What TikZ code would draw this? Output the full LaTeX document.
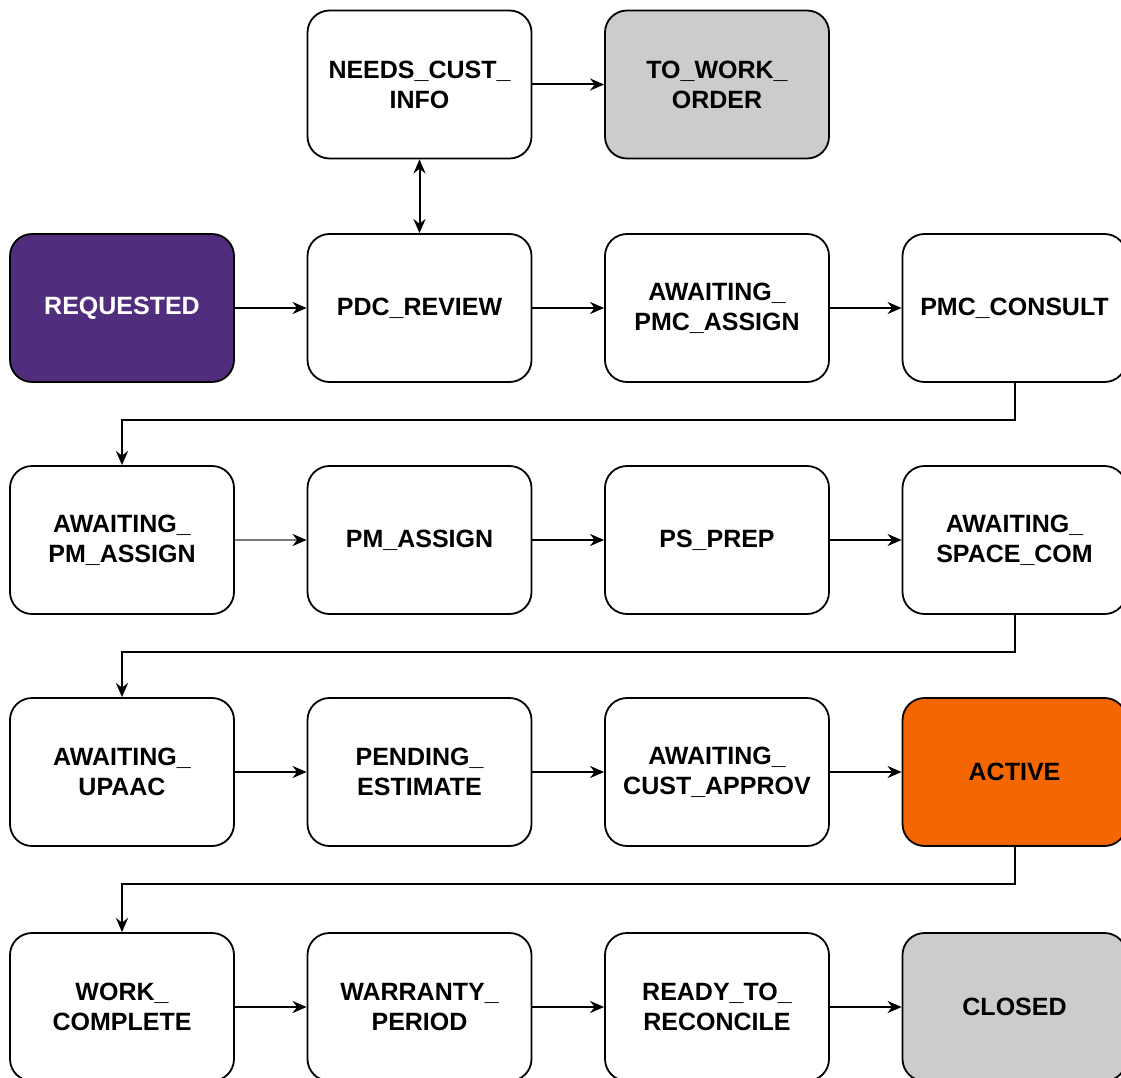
\documentclass[tikz,border=0pt]{standalone}
\usepackage{fontspec}
\setmainfont{Liberation Sans}
\usetikzlibrary{arrows.meta}
\definecolor{reqpurple}{HTML}{512D7D}
\definecolor{activeorange}{HTML}{F46700}
\definecolor{endgray}{HTML}{CCCCCC}
\definecolor{linegray}{HTML}{7A7A7A}
\begin{document}
\begin{tikzpicture}[x=1pt,y=-1pt,
  state/.style={draw=black, line width=1.8pt, rounded corners=22pt,
    minimum width=224pt, minimum height=148pt, inner sep=0pt,
    align=center, fill=white,
    font=\fontsize{25}{30}\selectfont\bfseries},
  requested/.style={state, fill=reqpurple, text=white},
  active/.style={state, fill=activeorange},
  final/.style={state, fill=endgray},
  flow/.style={line width=2pt, -{Stealth[length=14pt,width=12pt,inset=4.5pt]}},
  both/.style={line width=2pt, {Stealth[length=14pt,width=12pt,inset=4.5pt]}-{Stealth[length=14pt,width=12pt,inset=4.5pt]}}
]
\clip (0,0) rectangle (1121,1078);
\fill[white] (0,0) rectangle (1121,1078);

% top row
\node[state] (needs) at (419.5,84.5) {NEEDS\_CUST\_\\INFO};
\node[final] (towork) at (717,84.5) {TO\_WORK\_\\ORDER};

% row 1
\node[requested] (req) at (122,308) {REQUESTED};
\node[state] (pdc) at (419.5,308) {PDC\_REVIEW};
\node[state] (apmc) at (717,308) {AWAITING\_\\PMC\_ASSIGN};
\node[state] (pmc) at (1014.5,308) {PMC\_CONSULT};

% row 2
\node[state] (apm) at (122,540) {AWAITING\_\\PM\_ASSIGN};
\node[state] (pma) at (419.5,540) {PM\_ASSIGN};
\node[state] (psp) at (717,540) {PS\_PREP};
\node[state] (asc) at (1014.5,540) {AWAITING\_\\SPACE\_COM};

% row 3
\node[state] (upa) at (122,772) {AWAITING\_\\UPAAC};
\node[state] (pen) at (419.5,772) {PENDING\_\\ESTIMATE};
\node[state] (aca) at (717,772) {AWAITING\_\\CUST\_APPROV};
\node[active] (act) at (1014.5,772) {ACTIVE};

% row 4
\node[state] (wc) at (122,1007) {WORK\_\\COMPLETE};
\node[state] (wp) at (419.5,1007) {WARRANTY\_\\PERIOD};
\node[state] (rtr) at (717,1007) {READY\_TO\_\\RECONCILE};
\node[final] (cls) at (1014.5,1007) {CLOSED};

% connectors
\draw[both] (needs) -- (pdc);
\draw[flow] (needs) -- (towork);

\draw[flow] (req) -- (pdc);
\draw[flow] (pdc) -- (apmc);
\draw[flow] (apmc) -- (pmc);
\draw[flow] (pmc.south) -- (1014.5,420) -| (apm.north);

\draw[flow, draw=linegray, -{Stealth[length=14pt,width=12pt,inset=4.5pt,color=black]}] (apm) -- (pma);
\draw[flow] (pma) -- (psp);
\draw[flow] (psp) -- (asc);
\draw[flow] (asc.south) -- (1014.5,652) -| (upa.north);

\draw[flow] (upa) -- (pen);
\draw[flow] (pen) -- (aca);
\draw[flow] (aca) -- (act);
\draw[flow] (act.south) -- (1014.5,884) -| (wc.north);

\draw[flow] (wc) -- (wp);
\draw[flow] (wp) -- (rtr);
\draw[flow] (rtr) -- (cls);
\end{tikzpicture}
\end{document}
